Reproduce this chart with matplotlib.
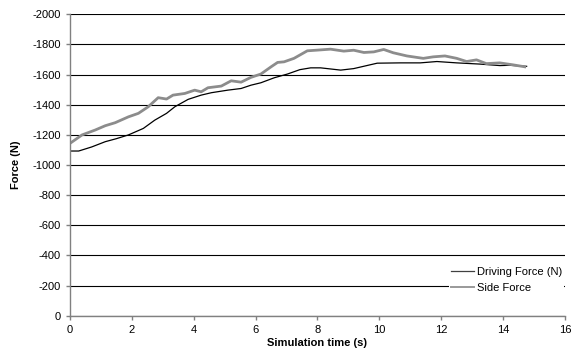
import matplotlib
matplotlib.use("Agg")
import matplotlib.pyplot as plt

plt.rcParams['font.family'] = ['Liberation Sans', 'DejaVu Sans']
plt.rcParams['axes.unicode_minus'] = False

# driving force (black line)
t_drive = [0.0, 0.28, 0.7, 1.14, 1.5, 1.89, 2.37, 2.74, 3.12, 3.39, 3.82, 4.24,
           4.57, 5.1, 5.53, 5.85, 6.17, 6.6, 7.03, 7.43, 7.78, 8.1, 8.75, 9.17,
           9.93, 10.68, 11.32, 11.86, 12.5, 13.25, 13.9, 14.2, 14.76]
f_drive = [-1093, -1093, -1120, -1155, -1175, -1200, -1243, -1298, -1343, -1387,
           -1436, -1464, -1480, -1497, -1508, -1530, -1546, -1579, -1604, -1633,
           -1645, -1645, -1630, -1640, -1676, -1678, -1678, -1687, -1678, -1670,
           -1660, -1662, -1655]

# side force (grey line)
t_side = [0.0, 0.39, 0.81, 1.14, 1.46, 1.89, 2.21, 2.53, 2.85, 3.12, 3.33, 3.71,
          4.03, 4.24, 4.46, 4.89, 5.21, 5.53, 5.85, 6.17, 6.5, 6.71, 6.92, 7.24,
          7.67, 7.95, 8.42, 8.85, 9.17, 9.5, 9.82, 10.14, 10.45, 10.89, 11.42,
          11.74, 12.12, 12.5, 12.82, 13.14, 13.46, 13.89, 14.32, 14.7]
f_side = [-1144, -1200, -1232, -1261, -1281, -1320, -1343, -1387, -1447, -1438,
          -1464, -1475, -1497, -1486, -1513, -1524, -1559, -1550, -1582, -1604,
          -1652, -1681, -1685, -1708, -1758, -1762, -1769, -1756, -1762, -1747,
          -1751, -1767, -1745, -1724, -1708, -1718, -1724, -1708, -1687, -1698,
          -1673, -1678, -1665, -1652]

fig = plt.figure(figsize=(5.73, 3.59), dpi=100)
ax = fig.add_axes([0.1222, 0.1206, 0.8638, 0.8394])

ax.plot(t_drive, f_drive, color='black', lw=0.9, label='Driving Force (N)')
ax.plot(t_side, f_side, color='#8c8c8c', lw=2.0, label='Side Force')

ax.set_xlim(0, 16)
ax.set_ylim(0, -2000)
ax.set_xticks(range(0, 17, 2))
ax.set_yticks(range(0, -2001, -200))
ax.yaxis.grid(True, color='black', lw=0.8)
ax.set_axisbelow(True)

for s in ['top', 'right']:
    ax.spines[s].set_visible(False)
for s in ['left', 'bottom']:
    ax.spines[s].set_color('#808080')
    ax.spines[s].set_linewidth(1.0)
ax.tick_params(axis='both', labelsize=8, color='#808080', length=3, width=1)

ax.set_xlabel('Simulation time (s)', fontsize=8, fontweight='bold', labelpad=2)
ax.set_ylabel('Force (N)', fontsize=8, fontweight='bold', labelpad=8)

leg = ax.legend(loc='lower right', bbox_to_anchor=(1.01, 0.05), fontsize=8,
                frameon=True, fancybox=False, edgecolor='none', framealpha=1,
                handlelength=2.0, handletextpad=0.3, labelspacing=0.5,
                borderpad=0.2)
leg.legend_handles[0].set_color('#404040')
leg.legend_handles[1].set_linewidth(1.4)
leg.legend_handles[1].set_color('#999999')

fig.savefig('out.png', dpi=100)
